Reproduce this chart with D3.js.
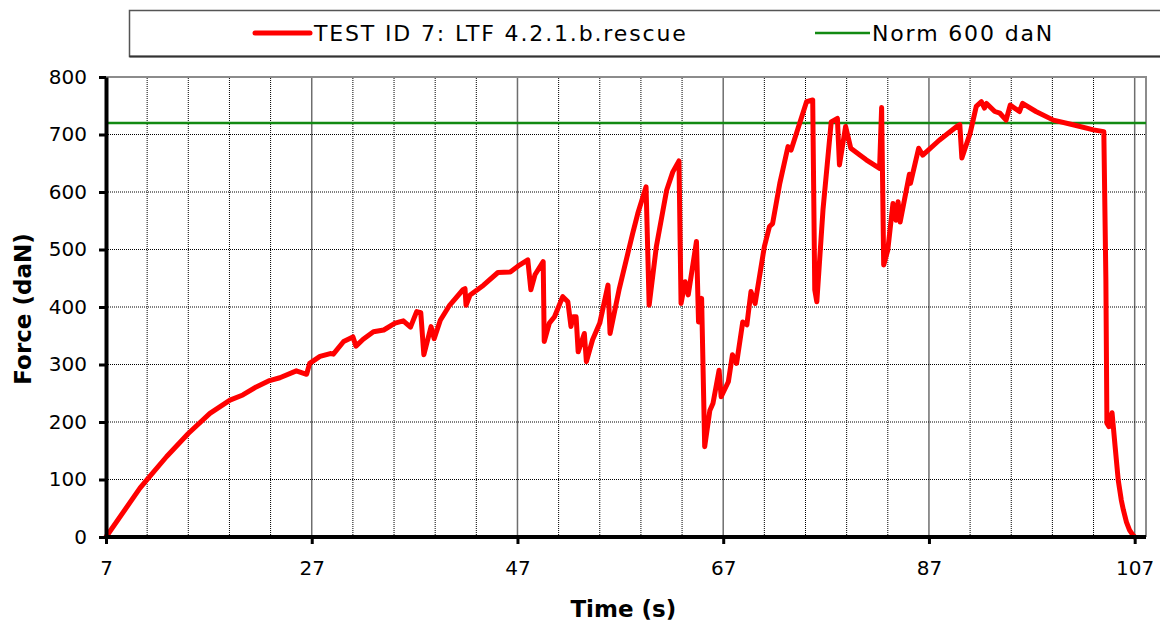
<!DOCTYPE html>
<html>
<head>
<meta charset="utf-8">
<script src="https://cdn.jsdelivr.net/npm/d3@7"></script>
<style>
  body { margin: 0; background: #fff; }
  text { font-family: "DejaVu Sans", Verdana, sans-serif; }
</style>
</head>
<body>
<script>
// force curve
var timeData = [
  7, 10.3, 10.95, 12.9, 15.0, 17.1, 19.05, 20.3, 21.6, 22.9,
  23.9, 25.5, 26.5, 26.8, 27.8, 28.8, 29.1, 30.1, 31.0, 31.3,
  32.0, 33.0, 34.0, 35.1, 35.9, 36.6, 37.2, 37.6, 37.9, 38.6,
  38.9, 39.5, 40.4, 41.7, 41.9, 42.0, 42.4, 43.7, 45.1, 46.3,
  47.2, 48.0, 48.3, 48.7, 49.5, 49.6, 50.1, 50.6, 51.4, 51.9,
  52.2, 52.4, 52.7, 52.9, 53.5, 53.7, 54.3, 55.0, 55.8, 56.0,
  56.9, 58.2, 58.7, 59.5, 59.8, 60.5, 61.5, 62.1, 62.7, 62.9,
  63.3, 63.6, 64.4, 64.6, 64.9, 65.2, 65.7, 66.0, 66.6, 66.8,
  67.5, 67.9, 68.3, 68.9, 69.3, 69.7, 70.1, 71.0, 71.5, 71.8,
  72.5, 73.3, 73.6, 75.1, 75.7, 75.9, 76.1, 76.7, 77.5, 78.1,
  78.3, 78.9, 79.4, 80.9, 82.2, 82.4, 82.6, 83.0, 83.5, 83.8,
  84.0, 84.2, 85.1, 85.2, 86.0, 86.4, 88.0, 89.7, 90.0, 90.2,
  91.0, 91.6, 92.1, 92.4, 92.6, 93.4, 93.9, 94.5, 94.9, 95.8,
  96.1, 97.4, 99.1, 101.0, 103.0, 104.0, 104.2, 104.3, 104.5, 104.8,
  105.1, 105.4, 105.7, 105.9, 106.2, 106.5, 106.8, 107.0
];
var forceData = [
  0, 85, 99, 140, 180, 215, 238, 247, 261, 272,
  277, 289, 283, 302, 314, 319, 318, 340, 348, 332,
  344, 357, 360, 372, 376, 365, 392, 390, 317, 366,
  345, 377, 403, 430, 432, 403, 421, 438, 460, 461,
  473, 482, 430, 456, 479, 340, 372, 383, 418, 409,
  366, 383, 383, 322, 354, 305, 343, 372, 438, 354,
  432, 528, 563, 609, 403, 505, 603, 635, 654, 406,
  444, 421, 514, 374, 415, 157, 220, 232, 290, 244,
  270, 317, 302, 374, 369, 427, 406, 505, 540, 545,
  615, 679, 673, 757, 760, 430, 409, 569, 722, 728,
  647, 714, 676, 656, 641, 747, 473, 499, 580, 551,
  583, 548, 631, 615, 676, 664, 690, 714, 717, 659,
  702, 749, 757, 746, 754, 740, 737, 725, 751, 740,
  754, 740, 725, 717, 708, 705, 447, 198, 192, 216,
  157, 99, 64, 47, 26, 12, 4, 0
];
var normValue = 720;
var seriesNames = ["TEST ID 7: LTF 4.2.1.b.rescue", "Norm 600 daN"];
var xTicks = [7, 27, 47, 67, 87, 107];
var yTicks = [0, 100, 200, 300, 400, 500, 600, 700, 800];

var width = 1160, height = 623;
var margin = {left:106, right:14, top:77, bottom:86};

var svg = d3.select("body").append("svg").attr("width",width).attr("height",height);

var x = d3.scaleLinear().domain([7, 108.1]).range([margin.left, width - margin.right]);
var y = d3.scaleLinear().domain([0, 800]).range([height - margin.bottom, margin.top]);

// minor vertical grid every 4 s, major every 20 s
var minorX = d3.range(11, 108, 4);
svg.append("g").selectAll("line").data(minorX).enter().append("line")
    .attr("x1", function(d){ return x(d); }).attr("x2", function(d){ return x(d); })
    .attr("y1", y(0)).attr("y2", y(800))
    .attr("stroke", function(d){ return xTicks.indexOf(d) >= 0 ? "#6e6e6e" : "#000"; })
    .attr("stroke-width", function(d){ return xTicks.indexOf(d) >= 0 ? 1.5 : 1; })
    .attr("stroke-dasharray", function(d){ return xTicks.indexOf(d) >= 0 ? null : "1,1"; });

svg.append("g").selectAll("line").data(yTicks.slice(1, -1)).enter().append("line")
    .attr("x1", x(7)).attr("x2", x(108.1))
    .attr("y1", function(d){ return y(d); }).attr("y2", function(d){ return y(d); })
    .attr("stroke", "#000").attr("stroke-width", 1).attr("stroke-dasharray", "1,1");

// plot frame top / right
svg.append("path")
    .attr("d", "M" + x(7) + "," + y(800) + "H" + x(108.1) + "V" + y(0))
    .attr("fill", "none").attr("stroke", "#8c8c8c").attr("stroke-width", 2);

// norm line
svg.append("line")
    .attr("x1", x(7)).attr("x2", x(108.1))
    .attr("y1", y(normValue)).attr("y2", y(normValue))
    .attr("stroke", "#138a13").attr("stroke-width", 2.5);

// force curve
var line = d3.line()
    .x(function(d,i){ return x(timeData[i]); })
    .y(function(d){ return y(d); });

svg.append("path").attr("d", line(forceData))
    .attr("fill", "none").attr("stroke", "#ff0000")
    .attr("stroke-width", 5).attr("stroke-linejoin", "round").attr("stroke-linecap", "round");

// axes
var xAxis = d3.axisBottom(x).tickValues(xTicks).tickSize(7).tickSizeOuter(0).tickPadding(17);
var yAxis = d3.axisLeft(y).tickValues(yTicks).tickSize(7).tickSizeOuter(0).tickPadding(12);

var gx = svg.append("g").attr("transform", "translate(0," + y(0) + ")").call(xAxis);
var gy = svg.append("g").attr("transform", "translate(" + x(7) + ",0)").call(yAxis);

[gx, gy].forEach(function(g){
  g.select(".domain").attr("stroke", "#000").attr("stroke-width", 4);
  g.selectAll(".tick line").attr("stroke", "#000").attr("stroke-width", 3);
  g.selectAll(".tick text").attr("font-size", 20).attr("fill", "#000")
      .style("font-family", "'DejaVu Sans', Verdana, sans-serif");
});
gx.select(".domain").attr("d", "M" + x(7) + ",0H" + x(108.1));

svg.append("text").attr("x", (x(7) + x(107)) / 2 + 3).attr("y", 617)
    .attr("text-anchor", "middle").attr("font-size", 23).attr("font-weight", "bold")
    .text("Time (s)");

svg.append("text").attr("transform", "translate(31,309) rotate(-90)")
    .attr("text-anchor", "middle").attr("font-size", 23).attr("font-weight", "bold")
    .text("Force (daN)");

// legend
var legend = svg.append("g");
legend.append("rect").attr("x", 129.5).attr("y", 10.5).attr("width", 1060).attr("height", 46)
    .attr("fill", "#fff").attr("stroke", "#555").attr("stroke-width", 1.5);
legend.append("line").attr("x1", 129.5).attr("x2", 1189).attr("y1", 56.5).attr("y2", 56.5)
    .attr("stroke", "#333").attr("stroke-width", 2);
legend.append("line").attr("x1", 255).attr("x2", 310).attr("y1", 33).attr("y2", 33)
    .attr("stroke", "#ff0000").attr("stroke-width", 5).attr("stroke-linecap", "round");
legend.append("text").attr("x", 314).attr("y", 41).attr("font-size", 22)
    .attr("letter-spacing", 1.85).text(seriesNames[0]);
legend.append("line").attr("x1", 815).attr("x2", 870).attr("y1", 33).attr("y2", 33)
    .attr("stroke", "#138a13").attr("stroke-width", 2.5);
legend.append("text").attr("x", 872).attr("y", 41).attr("font-size", 22)
    .attr("letter-spacing", 1.85).text(seriesNames[1]);
</script>
</body>
</html>
